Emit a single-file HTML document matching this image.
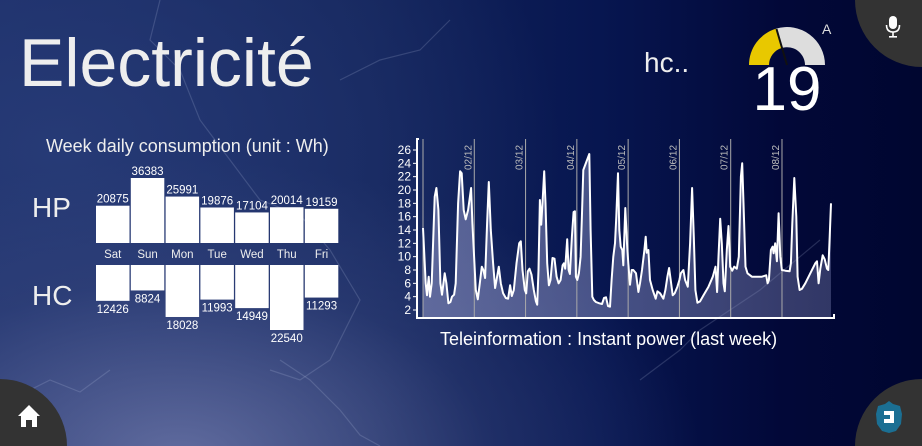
<!DOCTYPE html>
<html><head><meta charset="utf-8">
<style>
html,body{margin:0;padding:0;width:922px;height:446px;overflow:hidden}
body{position:relative;font-family:"Liberation Sans",sans-serif;color:#fff;
background:
radial-gradient(ellipse 520px 300px at 180px 460px, rgba(110,120,170,0.85), rgba(60,75,130,0.4) 60%, rgba(0,0,0,0) 100%),
radial-gradient(ellipse 500px 380px at 60px 150px, rgba(40,60,120,0.9), rgba(0,0,0,0) 100%),
linear-gradient(90deg,#1a2c66 0%,#13245a 40%,#071650 65%,#020838 85%,#000630 100%);}
.abs{position:absolute}
#wrap{position:absolute;left:0;top:0;width:922px;height:446px;overflow:hidden}
</style></head><body>
<div id="wrap">
<div class="abs" style="left:0;top:0">
<svg width="922" height="446"><g fill="none" stroke="rgba(200,210,240,0.18)" stroke-width="1.2">
<path d="M160 0 L150 40 L180 70 L200 120 L230 160 L260 200 L300 215 L330 250 L360 300 L330 360 L300 380 L270 370"/>
<path d="M280 360 L310 380 L340 410 L360 435 L380 446"/>
<path d="M20 395 L50 380 L80 392 L110 370"/>
<path d="M340 80 L380 60 L420 50 L450 20"/>
<path d="M640 380 L680 350 L700 330 L760 290 L820 240"/>
</g></svg></div>

<div class="abs" style="left:855px;top:0;width:67px;height:67px;border-bottom-left-radius:67px;background:#333"></div>
<div class="abs" style="left:885px;top:16px;width:16px;height:22px">
<svg width="16" height="22"><rect x="4" y="0" width="8" height="13" rx="4" fill="#fff"/><path d="M1.5 9 Q1.5 16 8 16 Q14.5 16 14.5 9" stroke="#fff" stroke-width="1.6" fill="none"/><rect x="7.2" y="16" width="1.6" height="4" fill="#fff"/><rect x="4" y="20" width="8" height="1.6" fill="#fff"/></svg></div>
<div class="abs" style="left:0;top:379px;width:67px;height:67px;border-top-right-radius:67px;background:#333"></div>
<div class="abs" style="left:17px;top:404px">
<svg width="24" height="24"><path d="M12 1 L23 12 L20 12 L20 23 L15 23 L15 16 L9 16 L9 23 L4 23 L4 12 L1 12 Z" fill="#fff"/></svg></div>
<div class="abs" style="left:855px;top:379px;width:67px;height:67px;border-top-left-radius:67px;background:#333"></div>
<div class="abs" style="left:874px;top:400px">
<svg width="30" height="34"><path d="M15 1 L19 4 L26 6 L28 14 L27 24 L22 31 L15 33 L8 31 L3 24 L2 14 L4 6 L11 4 Z" fill="#1b6f93"/><path d="M10 11 L20 11 L20 23 L10 23 L10 19 L16 19 L16 15 L10 15 Z" fill="#fff"/></svg></div>

<div class="abs" style="left:19px;top:24px;font-size:68px;color:#eee">Electricité</div>
<div class="abs" style="left:644px;top:47px;font-size:28px;color:#eee">hc..</div>
<div class="abs" style="left:740px;top:20px">
<svg width="100" height="50">
<path d="M9 45 A38 38 0 0 1 36.2 8.6 L42 27.9 A18 18 0 0 0 29 45 Z" fill="#e8c800"/>
<path d="M36.2 8.6 A38 38 0 0 1 85 45 L65 45 A18 18 0 0 0 42 27.9 Z" fill="#ddd"/>
<line x1="47" y1="45" x2="36.5" y2="9" stroke="#111" stroke-width="2"/>
</svg></div>
<div class="abs" style="left:822px;top:21px;font-size:14px;color:#ddd">A</div>
<div class="abs" style="left:727px;top:54px;width:120px;text-align:center;font-size:62px;color:#fff">19</div>

<div class="abs" style="left:46px;top:136px;font-size:18px;color:#eee">Week daily consumption (unit : Wh)</div>
<div class="abs" style="left:32px;top:192px;font-size:28px;color:#eee">HP</div>
<div class="abs" style="left:32px;top:280px;font-size:28px;color:#eee">HC</div>
<svg class="abs" id="bars" style="left:0;top:0" width="360" height="360"></svg>

<svg class="abs" id="line" style="left:0;top:0" width="922" height="360"></svg>
<div class="abs" style="left:440px;top:329px;font-size:18px;color:#fff">Teleinformation : Instant power (last week)</div>
</div>

<script>
const days=["Sat","Sun","Mon","Tue","Wed","Thu","Fri"];
const hpValues=[20875,36383,25991,19876,17104,20014,19159];
const hcValues=[12426,8824,18028,11993,14949,22540,11293];
(function(){
const NS="http://www.w3.org/2000/svg",svg=document.getElementById("bars");
function mk(t,a){const e=document.createElementNS(NS,t);for(const k in a)e.setAttribute(k,a[k]);svg.appendChild(e);return e;}
const x0=96,step=34.8,bw=33.5,hpBase=243,hcTop=265,H=65;
const hpMax=Math.max(...hpValues),hcMax=Math.max(...hcValues);
days.forEach((d,i)=>{
 const x=x0+i*step,cx=x+bw/2;
 const h1=hpValues[i]/hpMax*H;
 const r1=mk("rect",{x:x,y:hpBase-h1,width:bw,height:h1,fill:"#fff"});
 
 
 const t1=mk("text",{x:cx,y:hpBase-h1-3,"text-anchor":"middle","font-size":"11.5",fill:"#fff"});t1.textContent=hpValues[i];
 
 
 const tl=mk("text",{x:cx,y:258,"text-anchor":"middle","font-size":"11.5",fill:"#eee"});tl.textContent=d;
 
 
 const h2=hcValues[i]/hcMax*H;
 const r2=mk("rect",{x:x,y:hcTop,width:bw,height:h2,fill:"#fff"});
 
 
 const t2=mk("text",{x:cx,y:hcTop+h2+12,"text-anchor":"middle","font-size":"11.5",fill:"#fff"});t2.textContent=hcValues[i];
 
 
});
})();
</script>

<script>
// sample index (9.375 min per sample; 153.6 samples per day), power values
const sampleIdx=[0,8,12,17,21,26,35,40,46,52,57,65,70,76,82,87,93,98,105,111,116,122,128,135,144,148,153,158,164,170,176,181,186,192,197,203,210,216,222,227,233,240,248,255,261,266,272,280,288,293,298,305,309,314,319,325,332,338,342,346,350,354,358,363,367,372,377,382,388,394,400,406,412,418,422,426,432,436,440,446,451,455,458,462,467,472,476,480,498,502,507,512,518,528,536,542,548,554,560,565,570,575,579,584,588,592,597,600,606,611,615,620,625,630,638,645,650,656,663,667,670,675,680,688,697,702,710,720,726,732,737,742,748,754,762,768,772,780,785,793,800,806,811,816,822,830,840,855,868,876,881,885,890,895,900,904,910,915,920,926,932,940,946,952,956,960,966,972,985,1000,1015,1028,1032,1036,1042,1047,1050,1055,1060,1065,1070,1075,1085,1098,1102,1106,1112,1118,1122,1128,1135,1145,1160,1175,1180,1185,1190,1197,1203,1210,1214,1218,1222];
const powerValues=[14.3,6,4.2,7,4,6,19,20.3,17,6,4.3,7.5,6,3,3.2,4,4.3,6,18,22.8,22.5,17,15.6,17,20.3,15,10,5,3.6,6,8.5,8,6.8,15,21.2,14,9,5.3,7,8.5,6,4.5,3.8,3.7,5.7,4.1,5,9,12,12.3,8,5,4.5,7.8,8.2,7.3,5,3.3,2.8,8,18.5,14.8,18,22.8,18,9,5.7,6.5,9.8,9.7,7,6,6.5,8.7,9,8.2,12.6,8,7.4,13,16.7,16.8,7,6.5,7.5,10,16,23,25.4,14,4,3.5,3.2,3,2.9,3.8,3.9,2.6,2.5,6.5,10,12,16,22.5,14,11.5,11,8.7,17.3,12,9,5.8,8,8,7.5,4.7,6,8,11,13,10.6,11,6.5,5,3.7,4.8,4.5,3.7,5,7,8.3,6.5,4.2,4.5,5.5,6.5,7.5,8,6.5,5.5,12,20.3,13,5,3.1,3.3,4.2,5.5,7,8.5,4.7,10,15.7,12,6,4.8,11,14.6,8.5,7.9,8.5,8.2,10,22,24,18,8.5,7.5,7,7,7,7.2,6,6.5,11,11.5,10.5,12,9.3,16.5,10,8,7.9,7.8,9,15,21.8,16,7,5,5.2,6,7.5,9,9.3,6,8.2,10.2,9.6,8.2,8,13,18];
const yTicks=[2,4,6,8,10,12,14,16,18,20,22,24,26];
const dayLabels=["02/12","03/12","04/12","05/12","06/12","07/12","08/12"];
(function(){
const NS="http://www.w3.org/2000/svg",svg=document.getElementById("line");
function mk(t,a){const e=document.createElementNS(NS,t);for(const k in a)e.setAttribute(k,a[k]);svg.appendChild(e);return e;}
const X=s=>423+s*(408/1222);
const Y=v=>310-(v-2)*(160/24);
const samplesPerDay=153.6;
const defs=mk("defs",{});
defs.innerHTML='<linearGradient id="fillg" x1="0" y1="0" x2="1" y2="0"><stop offset="0" stop-color="#8a90c0" stop-opacity="0.6"/><stop offset="1" stop-color="#8a90c0" stop-opacity="0.35"/></linearGradient>';
let d="";
sampleIdx.forEach((s,i)=>{d+=(i?"L":"M")+X(s).toFixed(1)+" "+Y(powerValues[i]).toFixed(1);});
const last=sampleIdx[sampleIdx.length-1];
const area=mk("path",{d:d+"L"+X(last)+" 318 L"+X(0)+" 318 Z",fill:"url(#fillg)"});


dayLabels.forEach((lb,i)=>{
 const x=X(samplesPerDay*(i+1));
 const l=mk("line",{x1:x,y1:139,x2:x,y2:318,stroke:"#aaa","stroke-width":"1"});
 
 
 const t=mk("text",{x:0,y:0,transform:"translate("+(x-3)+",170) rotate(-90)","font-size":"10",fill:"#bbb"});t.textContent=lb;
 
 
});
const l0=mk("line",{x1:X(0),y1:139,x2:X(0),y2:318,stroke:"#aaa","stroke-width":"1"});


const line=mk("path",{d:d,fill:"none",stroke:"#fff","stroke-width":"2","stroke-linejoin":"round"});


const ax=mk("path",{d:"M419 139 L417 139 L417 318 L834 318 L834 314",fill:"none",stroke:"#fff","stroke-width":"2"});


yTicks.forEach(v=>{
 const y=Y(v);
 const tk=mk("line",{x1:413,y1:y,x2:417,y2:y,stroke:"#fff","stroke-width":"1"});
 
 
 const t=mk("text",{x:411,y:y+4,"text-anchor":"end","font-size":"12",fill:"#fff"});t.textContent=v;
 
 
});
})();
</script>
</body></html>
